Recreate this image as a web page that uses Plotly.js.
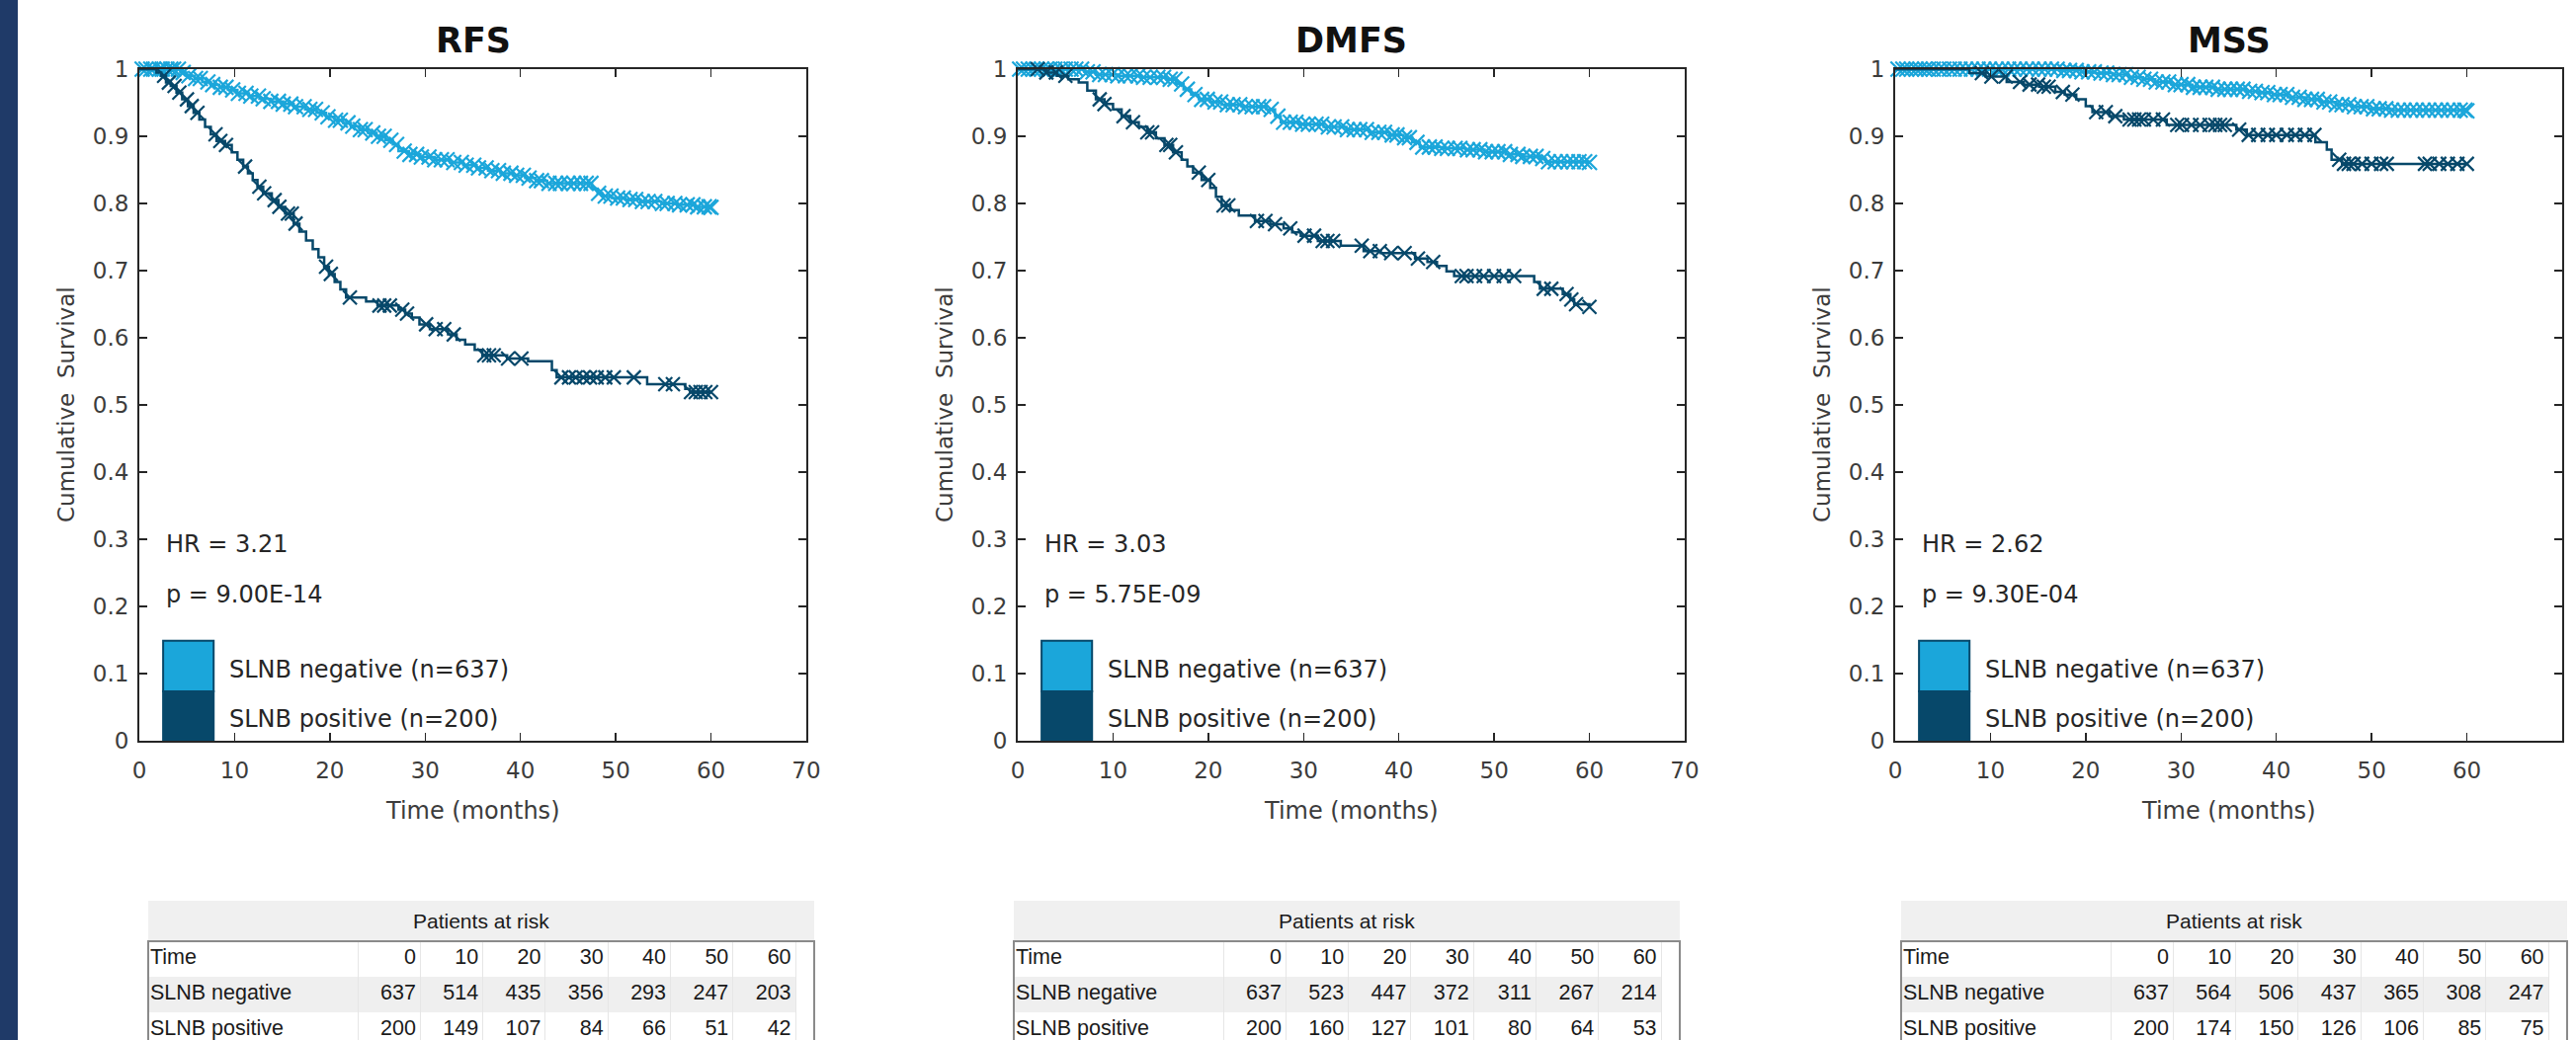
<!DOCTYPE html>
<html>
<head>
<meta charset="utf-8">
<script src="https://cdn.plot.ly/plotly-3.0.1.min.js"></script>
<style>html,body{margin:0;padding:0;background:#fff;}#chart{width:2607px;height:1053px;}</style>
</head>
<body>
<div id="chart"></div>
<script>
// ---------- DATA ----------
const panelTitles = ['RFS', 'DMFS', 'MSS'];
const hrLabels = ['HR = 3.21', 'HR = 3.03', 'HR = 2.62'];
const pLabels = ['p = 9.00E-14', 'p = 5.75E-09', 'p = 9.30E-04'];
const groupLabels = ['SLNB negative (n=637)', 'SLNB positive (n=200)'];
const rowLabels = ['Time', 'SLNB negative', 'SLNB positive'];
const xTicks = [0, 10, 20, 30, 40, 50, 60, 70];
const yTicks = [0, 0.1, 0.2, 0.3, 0.4, 0.5, 0.6, 0.7, 0.8, 0.9, 1];
const yTickText = ['0', '0.1', '0.2', '0.3', '0.4', '0.5', '0.6', '0.7', '0.8', '0.9', '1'];
const riskTimes = [0, 10, 20, 30, 40, 50, 60];
const rfsRiskNeg = [637, 514, 435, 356, 293, 247, 203];
const rfsRiskPos = [200, 149, 107, 84, 66, 51, 42];
const dmfsRiskNeg = [637, 523, 447, 372, 311, 267, 214];
const dmfsRiskPos = [200, 160, 127, 101, 80, 64, 53];
const mssRiskNeg = [637, 564, 506, 437, 365, 308, 247];
const mssRiskPos = [200, 174, 150, 126, 106, 85, 75];

// Kaplan-Meier step points [time, survival]
const rfsNeg = [[0,1],[4.3,0.995],[5.0,0.99],[5.8,0.986],[6.6,0.981],[7.5,0.977],[8.4,0.973],[9.3,0.969],[10.3,0.964],[11.5,0.96],[12.6,0.956],[13.8,0.952],[15.1,0.948],[16.2,0.944],[17.4,0.94],[18.6,0.935],[19.6,0.929],[20.5,0.924],[21.4,0.92],[22.2,0.915],[23.1,0.91],[24.0,0.905],[24.9,0.9],[25.8,0.894],[26.6,0.888],[27.2,0.878],[28.3,0.873],[29.5,0.869],[31.0,0.865],[32.6,0.861],[34.0,0.857],[35.4,0.853],[36.6,0.849],[37.9,0.845],[39.2,0.842],[40.5,0.838],[41.6,0.834],[42.8,0.83],[47.5,0.822],[48.1,0.815],[48.6,0.811],[49.6,0.808],[51.0,0.806],[52.6,0.803],[54.8,0.8],[56.5,0.798],[58.3,0.795],[60,0.794]];
const rfsPos = [[0,1],[1.8,0.995],[2.3,0.99],[2.8,0.98],[3.3,0.975],[3.9,0.965],[4.5,0.955],[5.1,0.945],[5.7,0.935],[6.3,0.925],[6.9,0.914],[7.5,0.903],[8.1,0.893],[9.0,0.887],[9.7,0.876],[10.3,0.865],[10.9,0.855],[11.4,0.845],[11.9,0.835],[12.4,0.825],[13.0,0.815],[13.9,0.805],[14.6,0.795],[15.3,0.785],[16.2,0.77],[16.8,0.758],[17.5,0.745],[18.2,0.732],[18.8,0.72],[19.4,0.706],[19.9,0.695],[20.5,0.683],[21.1,0.672],[21.7,0.66],[23.8,0.654],[25.0,0.648],[27.2,0.642],[27.9,0.636],[28.6,0.63],[29.4,0.62],[30.5,0.613],[32.4,0.605],[33.3,0.597],[34.2,0.59],[35.2,0.582],[36.0,0.574],[38.6,0.569],[40.8,0.565],[43.3,0.552],[43.8,0.541],[53.3,0.531],[57.3,0.524],[57.8,0.519],[60,0.519]];
const dmfsNeg = [[0,1],[7.0,0.996],[8.2,0.992],[10.5,0.99],[13.0,0.988],[15.6,0.985],[16.6,0.978],[17.4,0.97],[18.2,0.962],[19.0,0.955],[20.2,0.951],[21.4,0.947],[23.5,0.944],[26.1,0.94],[27.0,0.93],[27.6,0.921],[29.5,0.918],[32.1,0.914],[34.5,0.91],[36.9,0.906],[39.0,0.902],[40.5,0.898],[41.4,0.891],[42.2,0.884],[44.5,0.882],[47.0,0.88],[49.0,0.877],[51.2,0.873],[53.0,0.87],[54.8,0.867],[55.4,0.862],[60,0.861]];
const dmfsPos = [[0,1],[3.0,0.995],[4.1,0.99],[5.3,0.985],[6.4,0.98],[7.3,0.968],[8.2,0.955],[9.1,0.948],[10.0,0.94],[10.9,0.93],[11.8,0.921],[12.7,0.914],[13.6,0.906],[14.5,0.897],[15.4,0.887],[16.3,0.876],[17.2,0.865],[17.8,0.855],[18.4,0.846],[19.3,0.835],[20.2,0.823],[20.8,0.81],[21.4,0.797],[22.3,0.79],[23.2,0.782],[24.9,0.774],[26.5,0.769],[27.9,0.763],[28.8,0.757],[29.7,0.752],[31.5,0.744],[33.9,0.737],[36.3,0.729],[38.1,0.726],[41.7,0.718],[43.0,0.713],[44.0,0.707],[45.0,0.699],[45.8,0.692],[54.2,0.683],[54.8,0.673],[57.2,0.665],[58.0,0.657],[58.4,0.65],[60,0.646]];
const mssNeg = [[0,1],[17.2,0.998],[19.5,0.996],[21.0,0.994],[22.8,0.992],[24.5,0.988],[26.0,0.985],[27.3,0.981],[29.0,0.977],[31.2,0.973],[33.5,0.97],[36.8,0.967],[38.2,0.965],[39.6,0.962],[41.2,0.958],[43.0,0.955],[44.6,0.951],[46.3,0.947],[48.0,0.944],[49.7,0.941],[52.0,0.939],[60,0.938]];
const mssPos = [[0,1],[7.8,0.994],[9.5,0.989],[11.7,0.981],[13.5,0.977],[15.1,0.974],[16.8,0.966],[17.8,0.962],[19.0,0.955],[20.0,0.945],[20.7,0.936],[22.5,0.93],[24.0,0.925],[28.5,0.917],[35.8,0.91],[36.9,0.902],[44.1,0.891],[45.3,0.88],[45.8,0.865],[46.9,0.859],[60,0.859]];

// censoring times (x marks)
const rfsNegCens = [0.3,0.7,1.2,1.5,2.1,2.4,2.9,3.3,3.6,4.1,4.6,5.2,5.9,6.4,7.2,7.7,8.5,9.1,9.8,10.4,11.2,11.7,12.5,13.0,13.8,14.6,15.1,15.9,16.4,17.3,17.9,18.5,19.2,19.8,20.6,21.1,21.9,22.4,23.2,23.7,24.5,25.1,25.7,26.4,27.0,27.8,28.4,29.1,29.6,30.4,31.0,31.7,32.3,33.0,33.8,34.3,35.1,35.6,36.4,37.0,37.7,38.2,39.0,39.6,40.3,40.9,41.7,42.2,43.0,43.7,44.2,45.0,45.6,46.3,46.9,47.4,48.2,48.9,49.5,50.2,50.8,51.5,52.1,52.8,53.4,54.1,54.9,55.4,56.2,56.7,57.5,58.1,58.6,59.3,59.8,60.0];
const rfsPosCens = [2.6,3.1,3.7,4.2,5.0,5.5,6.1,8.0,8.5,9.1,11.1,12.6,13.1,14.2,14.7,15.6,16.0,16.4,19.6,20.1,22.1,25.2,25.7,26.3,27.6,28.1,30.1,31.1,32.0,33.0,36.2,36.7,37.2,38.7,40.1,44.3,45.1,45.8,46.6,47.3,48.0,48.9,49.8,51.9,55.2,56.0,57.9,58.4,58.9,59.4,60.0];
const dmfsNegCens = [0.2,0.6,1.1,1.6,2.0,2.5,3.0,3.4,3.9,4.5,5.0,5.6,6.1,6.7,7.3,7.9,8.6,9.2,9.9,10.5,11.3,11.8,12.6,13.2,13.9,14.7,15.3,16.0,16.5,17.2,17.8,18.6,19.3,19.9,20.7,21.3,22.0,22.6,23.3,23.9,24.6,25.3,25.8,26.6,27.3,27.9,28.6,29.2,29.9,30.5,31.3,31.9,32.6,33.2,34.0,34.6,35.3,35.9,36.6,37.2,37.9,38.5,39.3,39.8,40.6,41.1,41.9,42.5,43.2,43.8,44.5,45.1,45.9,46.4,47.2,47.8,48.5,49.1,49.8,50.4,51.1,51.7,52.5,53.0,53.8,54.4,55.1,55.7,56.4,57.0,57.7,58.3,58.9,59.5,60.0];
const dmfsPosCens = [2.1,3.0,4.0,5.0,8.6,9.1,11.1,12.1,13.6,14.1,15.6,16.0,16.6,19.0,20.0,21.6,22.1,25.1,26.0,27.0,28.6,30.1,31.1,32.0,32.5,33.1,36.1,37.0,38.0,39.2,40.6,42.0,43.6,46.6,47.1,48.0,48.9,50.0,51.0,52.1,55.2,56.0,57.6,58.1,58.6,60.0];
const mssNegCens = [0.3,0.8,1.2,1.7,2.2,2.6,3.1,3.5,4.0,4.6,5.1,5.7,6.2,6.8,7.4,8.0,8.7,9.3,9.9,10.6,11.2,11.9,12.5,13.1,13.8,14.4,15.1,15.7,16.4,17.0,17.7,18.3,19.0,19.6,20.3,20.9,21.6,22.2,22.9,23.5,24.2,24.8,25.5,26.1,26.8,27.4,28.1,28.7,29.4,30.0,30.7,31.3,32.0,32.6,33.3,33.9,34.6,35.2,35.9,36.5,37.2,37.8,38.5,39.1,39.8,40.4,41.1,41.7,42.4,43.0,43.7,44.3,45.0,45.6,46.3,46.9,47.6,48.2,48.9,49.5,50.2,50.8,51.5,52.1,52.8,53.4,54.1,54.7,55.4,56.0,56.7,57.3,58.0,58.6,59.3,59.8,60.0];
const mssPosCens = [9.1,10.1,11.6,13.1,14.1,15.0,15.6,16.1,17.6,18.6,21.1,22.1,23.1,24.6,25.1,25.6,26.1,27.1,28.1,29.6,30.1,31.1,32.0,33.0,33.6,34.1,34.6,36.1,37.1,38.1,39.1,40.0,41.1,42.0,43.0,44.0,46.6,47.1,47.6,48.1,49.0,50.0,51.0,51.6,55.6,56.1,57.1,58.0,59.0,60.0];

const negCurves = [rfsNeg, dmfsNeg, mssNeg];
const posCurves = [rfsPos, dmfsPos, mssPos];
const negCensors = [rfsNegCens, dmfsNegCens, mssNegCens];
const posCensors = [rfsPosCens, dmfsPosCens, mssPosCens];
const riskNeg = [rfsRiskNeg, dmfsRiskNeg, mssRiskNeg];
const riskPos = [rfsRiskPos, dmfsRiskPos, mssRiskPos];

// ---------- STYLE / LAYOUT ----------
const W = 2607, H = 1053;
const colNeg = '#1ba6da';
const colPos = '#07486a';
const axisLeftPx = [141, 1030, 1918];
const axisWidthPx = 675;
const axisTopPx = 70, axisBottomPx = 750;
const tableLeftPx = [150, 1026, 1924];
const tableWidthPx = 674;
const FONT = 'DejaVu Sans, Liberation Sans, Arial, sans-serif';
const TFONT = 'Liberation Sans, Arial, sans-serif';

function stepAt(curve, t) {
  let v = curve[0][1];
  for (const p of curve) { if (p[0] <= t) v = p[1]; else break; }
  return v;
}
const py = px => 1 - px / H;
const pxx = px => px / W;

const traces = [];
const layout = {
  width: W, height: H,
  margin: {l: 0, r: 0, t: 0, b: 0},
  paper_bgcolor: '#ffffff', plot_bgcolor: 'rgba(0,0,0,0)',
  showlegend: false,
  font: {family: FONT, color: '#262626'},
  annotations: [], shapes: []
};

// navy side bar
layout.shapes.push({type: 'rect', xref: 'paper', yref: 'paper', x0: 0, x1: 18 / W, y0: 0, y1: 1,
  fillcolor: '#1f3a68', line: {width: 0}, layer: 'below'});

for (let i = 0; i < 3; i++) {
  const ax = i === 0 ? '' : String(i + 1);
  const xa = 'x' + ax, ya = 'y' + ax;
  const L = axisLeftPx[i];

  layout['xaxis' + ax] = {
    domain: [pxx(L), pxx(L + axisWidthPx)], range: [0, 70], anchor: ya,
    tickvals: xTicks, ticks: 'inside', ticklen: 8, tickwidth: 1.5, tickcolor: '#262626',
    showline: true, linecolor: '#262626', linewidth: 2, mirror: 'ticks',
    showgrid: false, zeroline: false, fixedrange: true,
    ticklabelstandoff: 8,
    tickfont: {family: FONT, size: 23, color: '#3c3c3c'}
  };
  layout['yaxis' + ax] = {
    domain: [py(axisBottomPx), py(axisTopPx)], range: [0, 1], anchor: xa,
    tickvals: yTicks, ticktext: yTickText, ticks: 'inside', ticklen: 8, tickwidth: 1.5, tickcolor: '#262626',
    showline: true, linecolor: '#262626', linewidth: 2, mirror: 'ticks',
    showgrid: false, zeroline: false, fixedrange: true,
    ticklabelstandoff: 4,
    tickfont: {family: FONT, size: 23, color: '#3c3c3c'}
  };

  // curves
  const groups = [[negCurves[i], negCensors[i], colNeg, 15], [posCurves[i], posCensors[i], colPos, 14]];
  for (const [curve, cens, col, msz] of groups) {
    traces.push({type: 'scatter', mode: 'lines', xaxis: xa, yaxis: ya, cliponaxis: false,
      x: curve.map(p => p[0]), y: curve.map(p => p[1]),
      line: {shape: 'hv', color: col, width: 2.5}, hoverinfo: 'skip'});
    traces.push({type: 'scatter', mode: 'markers', xaxis: xa, yaxis: ya, cliponaxis: false,
      x: cens, y: cens.map(t => stepAt(curve, t)),
      marker: {symbol: 'x-thin', size: msz, color: col, line: {color: col, width: 2.2}}, hoverinfo: 'skip'});
  }

  // titles & texts
  const cx = pxx(L + axisWidthPx / 2);
  layout.annotations.push({xref: 'paper', yref: 'paper', x: cx, y: py(41), xanchor: 'center', yanchor: 'middle',
    text: panelTitles[i], showarrow: false, font: {family: FONT, size: 35, color: '#111', weight: 'bold'}});
  layout.annotations.push({xref: 'paper', yref: 'paper', x: cx, y: py(821), xanchor: 'center', yanchor: 'middle',
    text: 'Time (months)', showarrow: false, font: {family: FONT, size: 24, color: '#3c3c3c'}});
  layout.annotations.push({xref: 'paper', yref: 'paper', x: pxx(L - 74), y: py((axisTopPx + axisBottomPx) / 2),
    xanchor: 'center', yanchor: 'middle', textangle: -90,
    text: 'Cumulative  Survival', showarrow: false, font: {family: FONT, size: 23, color: '#3c3c3c'}});
  layout.annotations.push({xref: xa, yref: ya, x: 2.6, y: 0.293, xanchor: 'left', yanchor: 'middle',
    text: hrLabels[i], showarrow: false, font: {family: FONT, size: 24, color: '#262626'}});
  layout.annotations.push({xref: xa, yref: ya, x: 2.6, y: 0.218, xanchor: 'left', yanchor: 'middle',
    text: pLabels[i], showarrow: false, font: {family: FONT, size: 24, color: '#262626'}});

  // legend
  layout.shapes.push({type: 'rect', xref: xa, yref: ya, x0: 2.5, x1: 7.8, y0: 0.0735, y1: 0.149,
    fillcolor: colNeg, line: {color: colPos, width: 2}});
  layout.shapes.push({type: 'rect', xref: xa, yref: ya, x0: 2.5, x1: 7.8, y0: 0, y1: 0.0735,
    fillcolor: colPos, line: {color: colPos, width: 2}});
  layout.annotations.push({xref: xa, yref: ya, x: 9.2, y: 0.106, xanchor: 'left', yanchor: 'middle',
    text: groupLabels[0], showarrow: false, font: {family: FONT, size: 24, color: '#262626'}});
  layout.annotations.push({xref: xa, yref: ya, x: 9.2, y: 0.032, xanchor: 'left', yanchor: 'middle',
    text: groupLabels[1], showarrow: false, font: {family: FONT, size: 24, color: '#262626'}});

  // ---------- risk table ----------
  const tax = String(i + 4);
  const TL = tableLeftPx[i];
  const labelCol = 3.35, tailCol = 0.3;
  layout['xaxis' + tax] = {
    domain: [pxx(TL), pxx(TL + tableWidthPx)], range: [-labelCol, riskTimes.length + tailCol], anchor: 'y' + tax,
    tickvals: [0, 1, 2, 3, 4, 5, 6, 7], showticklabels: false, ticks: '', showgrid: true,
    gridcolor: '#e6e6e6', gridwidth: 1, zeroline: false, showline: false, fixedrange: true
  };
  layout['yaxis' + tax] = {
    domain: [0, py(953)], range: [-0.5 + (H - 953) / 36, -0.5], anchor: 'x' + tax,
    showticklabels: false, ticks: '', showgrid: false, zeroline: false, showline: false, fixedrange: true
  };
  // header box
  layout.shapes.push({type: 'rect', xref: 'paper', yref: 'paper', x0: pxx(TL), x1: pxx(TL + tableWidthPx),
    y0: py(952), y1: py(912), fillcolor: '#f0f0f0', line: {width: 0}, layer: 'below'});
  layout.annotations.push({xref: 'paper', yref: 'paper', x: pxx(TL + tableWidthPx / 2), y: py(932),
    xanchor: 'center', yanchor: 'middle', text: 'Patients at risk', showarrow: false,
    font: {family: TFONT, size: 21, color: '#1a1a1a'}});
  // striped row
  layout.shapes.push({type: 'rect', xref: 'x' + tax, yref: 'y' + tax, x0: -labelCol, x1: riskTimes.length,
    y0: 0.5, y1: 1.5, fillcolor: '#efefef', line: {width: 0}, layer: 'below'});
  // outer border
  layout.shapes.push({type: 'rect', xref: 'paper', yref: 'paper', x0: pxx(TL), x1: pxx(TL + tableWidthPx),
    y0: -0.1, y1: py(953), fillcolor: 'rgba(0,0,0,0)', line: {color: '#8a8a8a', width: 2}});

  traces.push({type: 'scatter', mode: 'text', xaxis: 'x' + tax, yaxis: 'y' + tax, cliponaxis: false,
    x: rowLabels.map(() => -labelCol + 0.03), y: [0, 1, 2], text: rowLabels,
    textposition: 'middle right', textfont: {family: TFONT, size: 21.5, color: '#1a1a1a'}, hoverinfo: 'skip'});
  const nx = [], ny = [], nt = [];
  riskTimes.forEach((t, k) => {
    const rowVals = [t, riskNeg[i][k], riskPos[i][k]];
    rowVals.forEach((v, r) => { nx.push(k + 0.93); ny.push(r); nt.push(String(v)); });
  });
  traces.push({type: 'scatter', mode: 'text', xaxis: 'x' + tax, yaxis: 'y' + tax, cliponaxis: false,
    x: nx, y: ny, text: nt, textposition: 'middle left',
    textfont: {family: TFONT, size: 21.5, color: '#1a1a1a'}, hoverinfo: 'skip'});
}

Plotly.newPlot('chart', traces, layout, {staticPlot: true, displayModeBar: false});
</script>
</body>
</html>
